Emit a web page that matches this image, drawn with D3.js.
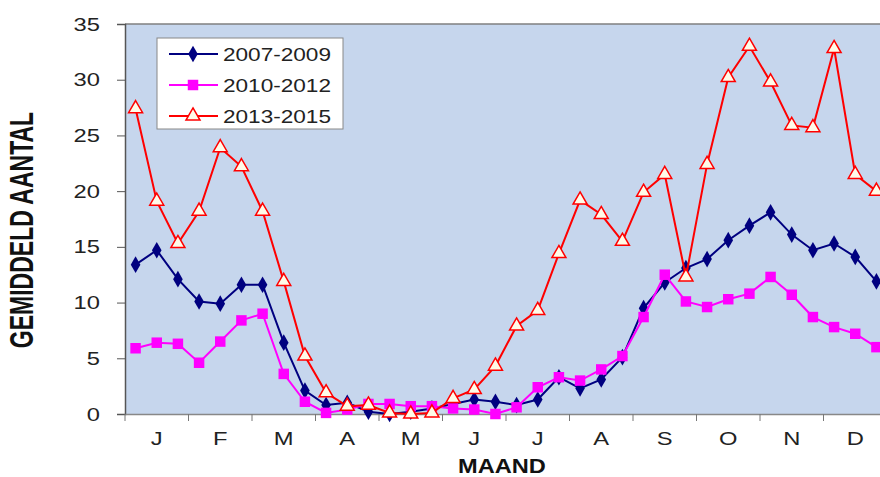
<!DOCTYPE html>
<html>
<head>
<meta charset="utf-8">
<script src="https://cdn.jsdelivr.net/npm/d3@7"></script>
<style>
  body { margin: 0; background: #fff; }
  text { font-family: "Liberation Sans", Arial, sans-serif; }
</style>
</head>
<body>
<div id="chart"></div>
<script>
// dekade data (3 per month)
var months = ["J", "F", "M", "A", "M", "J", "J", "A", "S", "O", "N", "D"];
var yTicks = [0, 5, 10, 15, 20, 25, 30, 35];
var seriesNames = ["2007-2009", "2010-2012", "2013-2015"];

var s0709 = [13.4, 14.7, 12.1, 10.1, 9.9, 11.6, 11.6, 6.4, 2.1, 0.8, 1.0, 0.2,
             0.0, 0.2, 0.5, 0.9, 1.3, 1.1, 0.8, 1.3, 3.3, 2.3, 3.1, 5.1,
             9.5, 11.8, 13.1, 13.9, 15.6, 16.9, 18.1, 16.1, 14.7, 15.3, 14.1, 11.9];
var s1012 = [5.9, 6.4, 6.3, 4.6, 6.5, 8.4, 9.0, 3.6, 1.1, 0.1, 0.4, 0.9,
             0.9, 0.7, 0.7, 0.5, 0.4, 0.0, 0.6, 2.4, 3.3, 3.0, 4.0, 5.2,
             8.7, 12.5, 10.1, 9.6, 10.3, 10.8, 12.3, 10.7, 8.7, 7.8, 7.2, 6.0];
var s1315 = [27.4, 19.1, 15.3, 18.2, 23.9, 22.2, 18.2, 11.9, 5.2, 1.9, 0.7, 0.8,
             0.1, 0.0, 0.1, 1.4, 2.2, 4.3, 7.9, 9.3, 14.4, 19.2, 17.9, 15.5,
             19.9, 21.5, 12.3, 22.4, 30.2, 33.0, 29.8, 25.9, 25.7, 32.8, 21.5, 20.0];

var svgWidth = 880;
var svgHeight = 477;
var plot = { left: 125, right: 887, top: 24, bottom: 414 };
var sx = 1.32; // the picture is stretched sideways

var svg = d3.select("#chart")
  .append("svg")
  .attr("width", svgWidth)
  .attr("height", svgHeight);

// scales
var x = d3.scaleBand()
  .domain(d3.range(s0709.length))
  .range([plot.left, plot.right]);

var xMonth = d3.scaleBand()
  .domain(d3.range(months.length))
  .range([plot.left, plot.right]);

var y = d3.scaleLinear()
  .domain([0, 35])
  .range([plot.bottom, plot.top]);

// plot area
svg.append("rect")
  .attr("x", plot.left)
  .attr("y", plot.top)
  .attr("width", plot.right - plot.left)
  .attr("height", plot.bottom - plot.top)
  .attr("fill", "#c6d6ed");

svg.append("line")
  .attr("x1", plot.left).attr("x2", plot.right)
  .attr("y1", plot.top).attr("y2", plot.top)
  .attr("stroke", "#7f7f7f")
  .attr("stroke-width", 1.5);

// y axis
var leftAxis = d3.axisLeft(y).tickValues(yTicks).tickSize(8).tickFormat("");
var yAxis = svg.append("g")
  .attr("transform", `translate(${plot.left},0)`)
  .call(leftAxis);
yAxis.select(".domain").attr("stroke", "#555").attr("stroke-width", 1.5);
yAxis.selectAll(".tick line").attr("stroke", "#555");

svg.append("g").selectAll("text")
  .data(yTicks)
  .enter()
  .append("text")
  .attr("transform", d => `translate(100,${y(d) + 6.5}) scale(${sx},1)`)
  .attr("text-anchor", "end")
  .attr("font-size", 18)
  .attr("fill", "#222")
  .text(d => d);

// x axis
var bottomAxis = d3.axisBottom(xMonth).tickSize(0).tickFormat("");
var xAxis = svg.append("g")
  .attr("transform", `translate(0,${plot.bottom})`)
  .call(bottomAxis);
xAxis.select(".domain").attr("stroke", "#888").attr("stroke-width", 1.5);

svg.append("g").selectAll("line")
  .data(d3.range(months.length + 1))
  .enter()
  .append("line")
  .attr("x1", d => plot.left + d * xMonth.step())
  .attr("x2", d => plot.left + d * xMonth.step())
  .attr("y1", plot.bottom)
  .attr("y2", plot.bottom + 7)
  .attr("stroke", "#777");

svg.append("g").selectAll("text")
  .data(months)
  .enter()
  .append("text")
  .attr("transform", (d, i) => `translate(${xMonth(i) + xMonth.bandwidth() / 2},445) scale(${sx},1)`)
  .attr("text-anchor", "middle")
  .attr("font-size", 18)
  .attr("fill", "#222")
  .text(d => d);

// axis titles
svg.append("text")
  .attr("transform", "translate(502,473) scale(1.18,1)")
  .attr("text-anchor", "middle")
  .attr("font-size", 20)
  .attr("font-weight", "bold")
  .attr("fill", "#111")
  .text("MAAND");

svg.append("text")
  .attr("transform", "translate(33,230) rotate(-90) scale(1,1.42)")
  .attr("text-anchor", "middle")
  .attr("font-size", 23)
  .attr("font-weight", "bold")
  .attr("fill", "#111")
  .text("GEMIDDELD AANTAL");

// series
var cx = i => x(i) + x.bandwidth() / 2;
var line = d3.line()
  .x((d, i) => cx(i))
  .y(d => y(d));

var series = [
  { name: seriesNames[0], values: s0709, color: "#000080", symbol: d3.symbolDiamond, size: 80, fill: "#000080" },
  { name: seriesNames[1], values: s1012, color: "#ff00ff", symbol: d3.symbolSquare, size: 110, fill: "#ff00ff" },
  { name: seriesNames[2], values: s1315, color: "#ff0000", symbol: d3.symbolTriangle, size: 85, fill: "#fffbe8" }
];

series.forEach(function (s) {
  svg.append("path")
    .datum(s.values)
    .attr("d", line)
    .attr("fill", "none")
    .attr("stroke", s.color)
    .attr("stroke-width", 2);

  svg.append("g").selectAll("path")
    .data(s.values)
    .enter()
    .append("path")
    .attr("d", d3.symbol().type(s.symbol).size(s.size))
    .attr("transform", (d, i) => `translate(${cx(i)},${y(d)})`)
    .attr("fill", s.fill)
    .attr("stroke", s.color)
    .attr("stroke-width", s.symbol === d3.symbolTriangle ? 1.5 : 0);
});

// legend
var legend = svg.append("g");
legend.append("rect")
  .attr("x", 157)
  .attr("y", 38)
  .attr("width", 186)
  .attr("height", 91)
  .attr("fill", "#fff")
  .attr("stroke", "#888");

series.forEach(function (s, i) {
  var ly = 54 + i * 31;
  legend.append("line")
    .attr("x1", 169).attr("x2", 218)
    .attr("y1", ly).attr("y2", ly)
    .attr("stroke", s.color)
    .attr("stroke-width", 2);
  legend.append("path")
    .attr("d", d3.symbol().type(s.symbol).size(s.size))
    .attr("transform", `translate(193,${ly})`)
    .attr("fill", s.fill)
    .attr("stroke", s.color)
    .attr("stroke-width", s.symbol === d3.symbolTriangle ? 1.5 : 0);
  legend.append("text")
    .attr("x", 223)
    .attr("y", ly + 6.5)
    .attr("font-size", 18)
    .attr("fill", "#222")
    .attr("textLength", 108)
    .attr("lengthAdjust", "spacingAndGlyphs")
    .text(s.name);
});
</script>
</body>
</html>
